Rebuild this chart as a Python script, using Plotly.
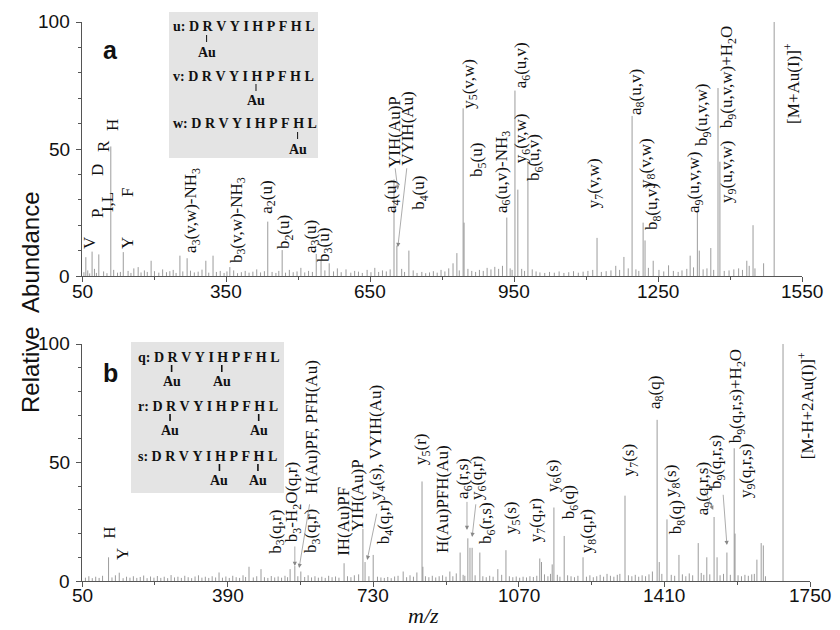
import plotly.graph_objects as go

W, H = 840, 630

# ---------------- data: panel a ----------------
top_mz = [58, 71, 85, 110, 136, 167, 194, 254, 269, 308, 323, 358, 437, 467, 538, 548, 565,
          700, 706, 731, 823, 831, 844, 846, 935, 952, 958, 979, 1123, 1179, 1196, 1219, 1223,
          1240, 1317, 1332, 1336, 1360, 1375, 1379, 1435, 1448, 1470, 1492]
top_int = [7.4, 9.6, 8.5, 51, 9.4, 3.5, 6, 8, 7, 6, 8, 3.5, 21.4, 10.2, 8.7, 6, 5,
           38, 12, 10, 5, 9, 66, 21, 23, 73, 34, 45, 15, 7.5, 63, 21, 14,
           6, 8, 25, 10, 11, 74, 45, 6, 20, 5, 100]
noise_top = [(54,1.5),(62,2.2),(66,1.0),(76,2.8),(80,1.2),(95,1.8),(102,1.1),(116,2.4),(124,1.3),(130,1.6),
             (146,2.0),(152,1.2),(158,3.0),(173,1.4),(180,2.2),(186,1.6),(201,1.9),(210,1.3),(218,2.6),(226,1.5),
             (233,1.9),(240,2.4),(246,1.2),(260,1.8),(276,2.1),(284,1.4),(292,1.7),(300,2.5),(314,1.3),(330,1.6),
             (338,2.0),(346,1.2),(352,1.8),(366,2.2),(374,1.1),(382,1.5),(390,2.0),(398,1.3),(406,1.7),(414,2.6),
             (422,1.4),(430,1.9),(446,1.6),(454,1.2),(460,2.0),(474,1.3),(482,2.4),(490,1.5),(498,1.8),(506,3.2),
             (514,1.4),(522,2.0),(530,1.6),(556,2.2),(574,1.8),(582,3.0),(590,1.5),(600,2.6),(610,1.3),(618,2.0),
             (626,1.7),(634,1.2),(644,2.4),(652,1.5),(660,3.2),(668,1.6),(676,2.2),(684,1.8),(692,2.6),(716,2.8),
             (722,1.6),(740,2.2),(748,1.2),(758,1.6),(766,1.1),(774,1.4),(782,1.9),(790,1.3),(798,2.4),(806,1.8),
             (814,3.0),(836,2.2),(854,2.8),(862,2.0),(870,1.6),(878,2.4),(886,2.0),(894,3.2),(902,2.6),(910,3.6),
             (918,2.8),(926,4.0),(942,3.0),(946,2.4),(966,2.8),(972,2.0),(988,2.6),(996,1.8),(1004,1.4),(1014,1.2),
             (1024,1.6),(1034,1.3),(1044,1.8),(1054,1.2),(1064,1.5),(1074,1.9),(1084,1.3),(1094,1.7),(1104,2.0),
             (1114,2.4),(1132,1.6),(1142,1.9),(1152,2.2),(1162,4.0),(1170,2.4),(1188,3.0),(1204,2.6),(1210,2.0),
             (1230,3.2),(1252,2.4),(1262,1.8),(1272,4.2),(1282,2.0),(1292,1.6),(1300,2.2),(1310,2.8),(1324,3.4),
             (1344,2.6),(1352,3.0),(1366,2.4),(1388,2.0),(1398,2.2),(1408,2.6),(1418,3.0),(1426,2.4),(1440,4.0),
             (1452,3.0)]
top_labels = [
    ("V", 66.7, 13.0), ("P", 81, 24.8), ("I,L", 102, 29.1), ("D", 81, 41.7), ("R", 96, 51.2),
    ("H", 112.5, 59.4), ("F", 146, 32.7), ("Y", 146, 13.0),
    ("a<sub>3</sub>(v,w)-NH<sub>3</sub>", 279, 26), ("b<sub>3</sub>(v,w)-NH<sub>3</sub>", 375, 22),
    ("a<sub>2</sub>(u)", 437, 31.1), ("b<sub>2</sub>(u)", 473, 17.3), ("a<sub>3</sub>(u)", 529, 15.7),
    ("b<sub>3</sub>(u)", 556, 12.2), ("a<sub>4</sub>(u)", 696, 31.1), ("YIH(Au)P", 702, 56.7),
    ("VYIH(Au)", 729, 58.3), ("b<sub>4</sub>(u)", 754, 32.7), ("y<sub>5</sub>(v,w)", 858, 75.6),
    ("b<sub>5</sub>(u)", 875, 45.7), ("a<sub>6</sub>(u,v)-NH<sub>3</sub>", 927, 40.9),
    ("a<sub>6</sub>(u,v)", 967, 83), ("y<sub>6</sub>(v,w)", 967, 54.3), ("b<sub>6</sub>(u,v)", 994, 46.5),
    ("y<sub>7</sub>(v,w)", 1119, 36.6), ("a<sub>8</sub>(u,v)", 1206, 72.4), ("y<sub>8</sub>(v,w)", 1227, 44.5),
    ("b<sub>8</sub>(u,v)", 1240, 27.2), ("a<sub>9</sub>(u,v,w)", 1327, 37), ("b<sub>9</sub>(u,v,w)", 1344, 63.4),
    ("y<sub>9</sub>(u,v,w)", 1396, 41), ("b<sub>9</sub>(u,v,w)+H<sub>2</sub>O", 1396, 78.3),
    ("[M+Au(I)]<sup>+</sup>", 1529, 76),
]
top_arrows = [((702, 43), (708, 34)), ((727, 43), (708, 11.4))]

# ---------------- data: panel b ----------------
bot_mz = [112, 137, 440, 468, 536, 547, 561, 662, 706, 711, 730, 800, 844, 846, 909, 933, 951, 956,
          961, 979, 1021, 1040, 1119, 1123, 1148, 1152, 1176, 1220, 1318, 1393, 1398, 1416, 1444,
          1489, 1509, 1526, 1533, 1556, 1573, 1575, 1626, 1636, 1641, 1687]
bot_int = [10, 3.5, 6, 5, 5, 6.3, 4, 7.5, 22, 8, 11, 4, 42, 6, 4, 12, 18, 14,
           14, 12, 5, 13, 9.5, 8, 7, 31, 19, 10, 36, 68, 8, 26, 11,
           16, 10, 27, 10, 12, 56, 20, 9, 16, 15, 100]
noise_bot = [(58,1.4),(66,2.0),(74,1.2),(82,1.8),(90,1.3),(98,2.2),(120,1.5),(128,2.4),(146,1.2),(154,1.8),
             (162,1.4),(170,2.0),(178,1.3),(186,1.7),(194,2.3),(202,1.2),(210,1.9),(218,1.4),(226,2.1),(234,1.3),
             (242,1.8),(250,1.2),(258,2.5),(266,1.5),(274,1.8),(282,1.3),(290,2.2),(298,1.6),(306,1.2),(314,1.9),
             (322,2.4),(330,1.4),(338,1.8),(346,1.3),(354,2.0),(362,1.5),(370,3.6),(378,1.4),(386,1.9),(394,1.3),
             (402,2.2),(410,1.6),(418,1.3),(426,2.4),(432,1.7),(450,1.5),(458,2.0),(476,1.6),(484,1.3),(492,2.1),
             (500,1.5),(508,1.9),(516,1.4),(524,2.2),(530,1.6),(554,2.0),(570,1.7),(578,2.4),(586,1.5),(594,2.0),
             (602,1.4),(610,1.8),(618,1.3),(626,2.2),(634,1.6),(642,1.9),(650,1.4),(670,2.0),(678,1.6),(686,2.4),
             (696,2.8),(720,2.0),(740,1.8),(748,1.5),(756,1.3),(764,1.7),(772,1.2),(780,1.9),(788,2.2),(808,1.6),
             (816,2.4),(824,1.8),(832,3.6),(852,2.0),(860,1.6),(868,2.2),(876,1.5),(884,2.0),(892,2.4),(900,1.8),
             (916,2.0),(924,3.2),(940,2.6),(944,2.2),(968,2.4),(986,2.0),(994,1.6),(1002,2.2),(1010,1.8),(1030,2.6),
             (1048,2.0),(1056,1.6),(1064,1.9),(1072,1.4),(1080,1.8),(1088,1.5),(1096,2.0),(1104,1.7),(1112,2.2),
             (1130,2.8),(1138,2.0),(1144,3.0),(1160,2.6),(1166,1.8),(1184,2.4),(1192,2.0),(1200,1.6),(1208,2.2),
             (1228,1.8),(1236,2.4),(1244,1.6),(1252,2.0),(1260,2.6),(1268,1.8),(1276,3.0),(1284,2.2),(1292,1.8),
             (1300,2.6),(1306,3.0),(1326,2.4),(1334,2.0),(1342,2.6),(1350,1.8),(1358,2.4),(1366,2.0),(1374,2.8),
             (1382,4.0),(1404,3.0),(1426,2.6),(1434,2.2),(1452,2.8),(1460,2.0),(1468,3.2),(1476,2.4),(1496,3.4),
             (1502,2.6),(1516,2.8),(1540,2.4),(1548,3.0),(1564,2.6),(1582,2.4),(1590,2.0),(1598,2.6),(1606,2.2),
             (1614,2.8),(1620,3.0),(1646,2.0)]
bot_labels = [
    ("H", 115, 20.3), ("Y", 146, 11.4), ("b<sub>3</sub>(q,r)", 505, 20.7),
    ("b<sub>3</sub>-H<sub>2</sub>O(q,r)", 543, 33.3), ("b<sub>3</sub>(q,r)", 587, 21.1),
    ("H(Au)PF, PFH(Au)", 587, 65), ("IH(Au)PF", 659, 25.3), ("YIH(Au)P", 695, 36.3),
    ("y<sub>4</sub>(s), VYIH(Au)", 739, 58.2), ("b<sub>4</sub>(q,r)", 758, 24.9), ("y<sub>5</sub>(r)", 844, 55.3),
    ("H(Au)PFH(Au)", 893, 34.6), ("a<sub>6</sub>(r,s)", 942, 43.5), ("y<sub>6</sub>(q,r)", 975, 43.5),
    ("b<sub>6</sub>(r,s)", 996, 24.5), ("y<sub>5</sub>(s)", 1054, 26.6), ("y<sub>7</sub>(q,r)", 1113, 25.7),
    ("y<sub>6</sub>(s)", 1152, 44.3), ("b<sub>6</sub>(q)", 1190, 33.3), ("y<sub>8</sub>(q,r)", 1232, 21.1),
    ("y<sub>7</sub>(s)", 1330, 51), ("a<sub>8</sub>(q)", 1390, 79.7), ("y<sub>8</sub>(s)", 1428, 42.2),
    ("b<sub>8</sub>(q)", 1440, 27), ("a<sub>9</sub>(q,r,s)", 1503, 38.8), ("b<sub>9</sub>(q,r,s)", 1533, 50.2),
    ("b<sub>9</sub>(q,r,s)+H<sub>2</sub>O", 1580, 78), ("y<sub>9</sub>(q,r,s)", 1603, 46.4),
    ("[M-H+2Au(I)]<sup>+</sup>", 1741, 73.8),
]
bot_arrows = [((547, 15.2), (547, 6.3)), ((582, 33), (557, 5.5)), ((739, 29), (716, 8.9)),
              ((949, 34), (949, 21.5)), ((970, 33), (961, 18.6)), ((1500, 39.7), (1524, 30)),
              ((1547, 37), (1556, 15.2))]

sequence = "DRVYIHPFHL"
inset_top = [("u", [1]), ("v", [5]), ("w", [8])]
inset_bot = [("q", [1, 5]), ("r", [1, 8]), ("s", [5, 8])]

x_ticks_top = [50, 350, 650, 950, 1250, 1550]
x_ticks_bot = [50, 390, 730, 1070, 1410, 1750]
y_ticks = [0, 50, 100]

# Times bold advance widths (em) used to place the "Au" marks under residues
TB = {"D": .722, "R": .722, "V": .722, "Y": .722, "I": .389, "H": .778, "P": .611, "F": .611,
      "L": .667, " ": .25, ":": .333, "u": .556, "v": .5, "w": .722, "q": .556, "r": .444, "s": .389}
NB = "\u00a0"


def sticks(mz, inten, noise):
    xs, ys = [], []
    for m, v in list(zip(mz, inten)) + list(noise):
        xs += [m, m, None]
        ys += [0, v, None]
    return xs, ys


fig = go.Figure()
xs, ys = sticks(top_mz, top_int, noise_top)
fig.add_trace(go.Scatter(x=xs, y=ys, mode="lines", line=dict(color="#8a8a8a", width=0.85),
                         xaxis="x", yaxis="y", hoverinfo="skip", showlegend=False))
xs, ys = sticks(bot_mz, bot_int, noise_bot)
fig.add_trace(go.Scatter(x=xs, y=ys, mode="lines", line=dict(color="#8a8a8a", width=0.85),
                         xaxis="x2", yaxis="y2", hoverinfo="skip", showlegend=False))

axcommon = dict(showgrid=False, zeroline=False, showline=True, linecolor="#555", linewidth=1,
                ticks="outside", ticklen=5, tickcolor="#555", showticklabels=False)


def P(px, py):
    return px / W, 1 - py / H


fig.update_layout(
    width=W, height=H, margin=dict(l=0, r=0, t=0, b=0),
    paper_bgcolor="white", plot_bgcolor="white",
    xaxis=dict(domain=[82 / W, 802 / W], range=[50, 1550], anchor="y", tickvals=x_ticks_top,
               minor=dict(dtick=150, tick0=50, ticks="outside", ticklen=3, tickcolor="#555"), **axcommon),
    yaxis=dict(domain=[1 - 276 / H, 1 - 22 / H], range=[0, 100], anchor="x", tickvals=y_ticks,
               minor=dict(dtick=10, tick0=0, ticks="outside", ticklen=3, tickcolor="#555"), **axcommon),
    xaxis2=dict(domain=[82 / W, 810 / W], range=[50, 1750], anchor="y2", tickvals=x_ticks_bot,
                minor=dict(dtick=170, tick0=50, ticks="outside", ticklen=3, tickcolor="#555"), **axcommon),
    yaxis2=dict(domain=[1 - 581 / H, 1 - 344 / H], range=[0, 100], anchor="x2", tickvals=y_ticks,
                minor=dict(dtick=10, tick0=0, ticks="outside", ticklen=3, tickcolor="#555"), **axcommon),
)

ann = []
tickfont = dict(family="Liberation Sans, Arial", size=19, color="#111")
# tick labels
for ticks, xr, py in [(x_ticks_top, "x", 291), (x_ticks_bot, "x2", 595)]:
    for t in ticks:
        ann.append(dict(text=str(t), x=t, y=P(0, py)[1], xref=xr, yref="paper", showarrow=False,
                        xanchor="center", yanchor="middle", font=tickfont))
for yr in ["y", "y2"]:
    for t in y_ticks:
        ann.append(dict(text=str(t), x=P(72, 0)[0], y=t, xref="paper", yref=yr, showarrow=False,
                        xanchor="right", yanchor="middle", font=tickfont))

lab_font = dict(family="Liberation Serif, Times New Roman", size=17, color="#111")
for (labels, xr, yr) in [(top_labels, "x", "y"), (bot_labels, "x2", "y2")]:
    for t, x, y in labels:
        ann.append(dict(text=t, x=x, y=y, xref=xr, yref=yr, textangle=-90, showarrow=False,
                        xanchor="center", yanchor="middle", font=lab_font))
for (arrows, xr, yr) in [(top_arrows, "x", "y"), (bot_arrows, "x2", "y2")]:
    for (tail, head) in arrows:
        ann.append(dict(text="", x=head[0], y=head[1], ax=tail[0], ay=tail[1], xref=xr, yref=yr,
                        axref=xr, ayref=yr, showarrow=True, arrowhead=2, arrowsize=1.2,
                        arrowwidth=0.7, arrowcolor="#888"))

shapes = []
FS = 14
inset_font = dict(family="Liberation Serif, Times New Roman", size=FS, color="#111")


def inset(box, rows, x_start, y_rows, au_dy, tick_w):
    bx0, by0, bx1, by1 = box
    a, b = P(bx0, by0)
    c, d = P(bx1, by1)
    shapes.append(dict(type="rect", xref="paper", yref="paper", x0=a, x1=c, y0=d, y1=b,
                       fillcolor="#e4e4e4", line=dict(width=0), layer="below"))
    for (name, sites), yy in zip(rows, y_rows):
        s = name + ": " + " ".join(sequence)
        px, py = P(x_start, yy)
        ann.append(dict(text="<b>%s</b>" % s.replace(" ", NB), x=px, y=py, xref="paper", yref="paper",
                        showarrow=False, xanchor="left", yanchor="middle", font=inset_font))
        # centres of residues
        centres = []
        pos = x_start + 1
        for ch in s:
            w = TB.get(ch, 0.6) * FS
            if ch in sequence:
                centres.append(pos + w / 2)
            pos += w
        for si in sites:
            xx = centres[si]
            t0 = P(xx, yy + 8)
            t1 = P(xx, yy + 15)
            shapes.append(dict(type="line", xref="paper", yref="paper", x0=t0[0], x1=t1[0],
                               y0=t0[1], y1=t1[1], line=dict(color="#111", width=tick_w)))
            px, py = P(xx, yy + au_dy)
            ann.append(dict(text="<b>Au</b>", x=px, y=py, xref="paper", yref="paper",
                            showarrow=False, xanchor="center", yanchor="middle", font=inset_font))


inset((169, 12, 318, 158), inset_top, 171, [27, 76, 124], 25, 1)
inset((131, 342, 284, 493), inset_bot, 136, [357, 406, 456], 24, 1.6)

# panel letters and axis titles
for letter, (px, py) in [("a", (110, 50)), ("b", (110, 373))]:
    x, y = P(px, py)
    ann.append(dict(text="<b>%s</b>" % letter, x=x, y=y, xref="paper", yref="paper", showarrow=False,
                    xanchor="center", yanchor="middle",
                    font=dict(family="Liberation Sans, Arial", size=25, color="#111")))
x, y = P(30, 303)
ann.append(dict(text="Relative" + NB + NB + "Abundance", x=x, y=y, xref="paper", yref="paper",
                showarrow=False, textangle=-90, xanchor="center", yanchor="middle",
                font=dict(family="Liberation Sans, Arial", size=24, color="#111")))
x, y = P(423, 615)
ann.append(dict(text="<i>m/z</i>", x=x, y=y, xref="paper", yref="paper", showarrow=False,
                xanchor="center", yanchor="middle",
                font=dict(family="Liberation Serif, Times New Roman", size=22, color="#111")))

fig.update_layout(annotations=ann, shapes=shapes)
fig.write_html("out.html")
